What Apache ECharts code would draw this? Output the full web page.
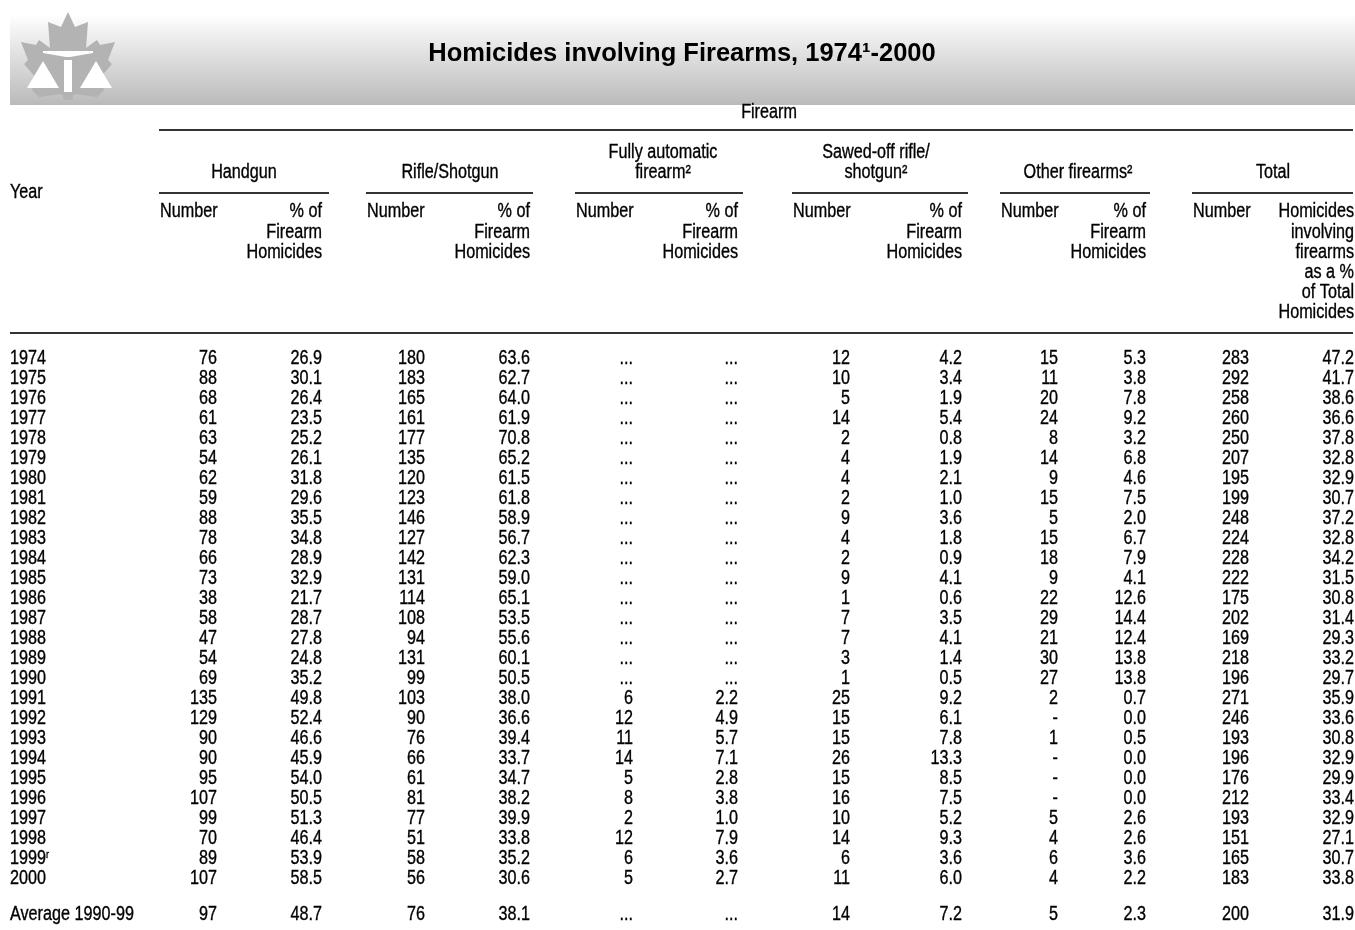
<!DOCTYPE html>
<html>
<head>
<meta charset="utf-8">
<title>Homicides involving Firearms, 1974-2000</title>
<script src="https://cdn.jsdelivr.net/npm/echarts@6/dist/echarts.min.js"></script>
<style>
  html, body { margin: 0; padding: 0; background: #fff; }
  .table { width: 1355px; height: 930px; }
</style>
</head>
<body>
<div class="table"></div>
<script>
// 年份（1999年为修订数据 r）
var years = ['1974', '1975', '1976', '1977', '1978', '1979', '1980', '1981', '1982',
  '1983', '1984', '1985', '1986', '1987', '1988', '1989', '1990', '1991', '1992',
  '1993', '1994', '1995', '1996', '1997', '1998', '1999', '2000'];
var revisedYears = ['1999'];
var averageLabel = 'Average 1990-99';

// 手枪 Handgun
var handgunNum = [76, 88, 68, 61, 63, 54, 62, 59, 88, 78, 66, 73, 38, 58, 47, 54, 69, 135, 129, 90, 90, 95, 107, 99, 70, 89, 107];
var handgunPct = [26.9, 30.1, 26.4, 23.5, 25.2, 26.1, 31.8, 29.6, 35.5, 34.8, 28.9, 32.9, 21.7, 28.7, 27.8, 24.8, 35.2, 49.8, 52.4, 46.6, 45.9, 54.0, 50.5, 51.3, 46.4, 53.9, 58.5];
// Rifle/Shotgun
var rifleNum = [180, 183, 165, 161, 177, 135, 120, 123, 146, 127, 142, 131, 114, 108, 94, 131, 99, 103, 90, 76, 66, 61, 81, 77, 51, 58, 56];
var riflePct = [63.6, 62.7, 64.0, 61.9, 70.8, 65.2, 61.5, 61.8, 58.9, 56.7, 62.3, 59.0, 65.1, 53.5, 55.6, 60.1, 50.5, 38.0, 36.6, 39.4, 33.7, 34.7, 38.2, 39.9, 33.8, 35.2, 30.6];
// Fully automatic firearm（1991年以前没有数据 ...）
var autoNum = [null, null, null, null, null, null, null, null, null, null, null, null, null, null, null, null, null, 6, 12, 11, 14, 5, 8, 2, 12, 6, 5];
var autoPct = [null, null, null, null, null, null, null, null, null, null, null, null, null, null, null, null, null, 2.2, 4.9, 5.7, 7.1, 2.8, 3.8, 1.0, 7.9, 3.6, 2.7];
// Sawed-off rifle/shotgun
var sawedNum = [12, 10, 5, 14, 2, 4, 4, 2, 9, 4, 2, 9, 1, 7, 7, 3, 1, 25, 15, 15, 26, 15, 16, 10, 14, 6, 11];
var sawedPct = [4.2, 3.4, 1.9, 5.4, 0.8, 1.9, 2.1, 1.0, 3.6, 1.8, 0.9, 4.1, 0.6, 3.5, 4.1, 1.4, 0.5, 9.2, 6.1, 7.8, 13.3, 8.5, 7.5, 5.2, 9.3, 3.6, 6.0];
// Other firearms（0 显示为 -）
var otherNum = [15, 11, 20, 24, 8, 14, 9, 15, 5, 15, 18, 9, 22, 29, 21, 30, 27, 2, 0, 1, 0, 0, 0, 5, 4, 6, 4];
var otherPct = [5.3, 3.8, 7.8, 9.2, 3.2, 6.8, 4.6, 7.5, 2.0, 6.7, 7.9, 4.1, 12.6, 14.4, 12.4, 13.8, 13.8, 0.7, 0.0, 0.5, 0.0, 0.0, 0.0, 2.6, 2.6, 3.6, 2.2];
// Total
var totalNum = [283, 292, 258, 260, 250, 207, 195, 199, 248, 224, 228, 222, 175, 202, 169, 218, 196, 271, 246, 193, 196, 176, 212, 193, 151, 165, 183];
var totalPct = [47.2, 41.7, 38.6, 36.6, 37.8, 32.8, 32.9, 30.7, 37.2, 32.8, 34.2, 31.5, 30.8, 31.4, 29.3, 33.2, 29.7, 35.9, 33.6, 30.8, 32.9, 29.9, 33.4, 32.9, 27.1, 30.7, 33.8];
// Average 1990-99 这一行，顺序同上
var averageRow = [97, 48.7, 76, 38.1, null, null, 14, 7.2, 5, 2.3, 200, 31.9];

(function() {
  // 窄体字：用 Liberation Sans 横向压缩
  var FONT = "'Liberation Sans', Arial, sans-serif";
  var SIZE = 19.5;
  var SX = 0.83;

  // 行：年份 + 空行 + 平均值
  var rowKeys = years.concat(['', averageLabel]);
  var avgIndex = rowKeys.length - 1;

  function fmtCount(v) {
    if (v === null) return '...';
    if (v === 0) return '-';
    return String(v);
  }
  function fmtPct(v) {
    return v === null ? '...' : v.toFixed(1);
  }

  // 每一列：数据 + 格式
  var columns = [
    [handgunNum, fmtCount], [handgunPct, fmtPct],
    [rifleNum, fmtCount], [riflePct, fmtPct],
    [autoNum, fmtCount], [autoPct, fmtPct],
    [sawedNum, fmtCount], [sawedPct, fmtPct],
    [otherNum, fmtCount], [otherPct, fmtPct],
    [totalNum, fmtCount], [totalPct, fmtPct]
  ];
  // 每列右对齐的位置（像素）
  var colRight = [217, 322, 425, 530, 633, 738, 850, 962, 1058, 1146, 1249, 1354];

  // 字重稍微加粗一点
  var WEIGHT = { stroke: '#000', lineWidth: 0.35 };

  // 用 custom 系列画文字，位置来自坐标轴
  function textColumn(x, texts, align) {
    var data = texts.map(function(t, i) { return [x, i < texts.length - 1 ? i : avgIndex]; });
    return {
      type: 'custom',
      silent: true,
      data: data,
      encode: { x: 0, y: 1 },
      renderItem: function(params, api) {
        var pt = api.coord([api.value(0), api.value(1)]);
        var dy = api.value(1) === avgIndex ? -4 : 0;
        return {
          type: 'text',
          x: pt[0],
          y: pt[1] + dy,
          scaleX: SX,
          style: {
            text: texts[params.dataIndex],
            fill: '#000',
            stroke: WEIGHT.stroke,
            lineWidth: WEIGHT.lineWidth,
            fontFamily: FONT,
            fontSize: SIZE,
            align: align,
            verticalAlign: 'middle',
            rich: { s: { fontFamily: FONT, fontSize: 11, verticalAlign: 'top', fill: '#000' } }
          }
        };
      }
    };
  }

  var series = [];
  columns.forEach(function(col, c) {
    var texts = col[0].map(col[1]).concat([col[1](averageRow[c])]);
    series.push(textColumn(colRight[c], texts, 'right'));
  });
  // 年份列（左对齐）
  var yearTexts = years.map(function(y) {
    return revisedYears.indexOf(y) >= 0 ? y + '{s|r}' : y;
  }).concat([averageLabel]);
  series.push(textColumn(10, yearTexts, 'left'));

  // 表头
  function txt(text, x, y, align) {
    return {
      type: 'text', x: x, y: y, scaleX: SX, silent: true,
      style: {
        text: text, fill: '#000', stroke: WEIGHT.stroke, lineWidth: WEIGHT.lineWidth,
        fontFamily: FONT, fontSize: SIZE,
        align: align, verticalAlign: 'middle', textAlign: align, textVerticalAlign: 'middle'
      }
    };
  }
  function hline(x1, x2, y) {
    return { type: 'line', silent: true, shape: { x1: x1, y1: y, x2: x2, y2: y }, style: { stroke: '#333', lineWidth: 2 } };
  }

  var head = [];
  // 灰色渐变标题栏
  head.push({
    type: 'rect', silent: true, shape: { x: 10, y: 14, width: 1345, height: 91 },
    style: {
      fill: new echarts.graphic.LinearGradient(0, 0, 0, 1, [
        { offset: 0, color: '#ffffff' },
        { offset: 1, color: '#bababa' }
      ])
    }
  });
  // 枫叶标志
  head.push({
    type: 'polygon', silent: true,
    shape: { points: [[68, 12], [75, 27], [88, 22], [86, 48], [97, 40], [100, 45], [115, 42], [108, 60], [112, 64],
      [100, 78], [104, 90], [97, 97], [74, 94], [72, 100], [64, 100], [62, 94], [39, 97], [32, 90], [36, 78],
      [24, 64], [28, 60], [21, 42], [36, 45], [39, 40], [50, 48], [48, 22], [61, 27]] },
    style: { fill: '#b3b3b3' }
  });
  head.push({ type: 'polygon', silent: true, shape: { points: [[43, 51], [93, 51], [93, 53], [70, 57], [66, 57], [43, 53]] }, style: { fill: '#fff' } });
  head.push({ type: 'rect', silent: true, shape: { x: 64, y: 60, width: 8, height: 32 }, style: { fill: '#fff' } });
  head.push({ type: 'polygon', silent: true, shape: { points: [[43, 61], [27, 88], [59, 88]] }, style: { fill: '#fff' } });
  head.push({ type: 'polygon', silent: true, shape: { points: [[96, 61], [80, 88], [112, 88]] }, style: { fill: '#fff' } });
  // 标题
  head.push({
    type: 'text', x: 682, y: 54, silent: true,
    style: {
      text: 'Homicides involving Firearms, 1974\u00b9-2000', fill: '#000',
      fontFamily: FONT, fontSize: 25.5, fontWeight: 'bold',
      align: 'center', verticalAlign: 'middle', textAlign: 'center', textVerticalAlign: 'middle'
    }
  });

  head.push(txt('Firearm', 769, 113, 'center'));
  head.push(hline(159, 1353, 130));
  head.push(txt('Year', 10, 193, 'left'));

  var groups = [
    [['Handgun'], 244, 159, 329],
    [['Rifle/Shotgun'], 450, 366, 533],
    [['Fully automatic', 'firearm\u00b2'], 663, 575, 743],
    [['Sawed-off rifle/', 'shotgun\u00b2'], 876, 792, 968],
    [['Other firearms\u00b2'], 1078, 1000, 1150],
    [['Total'], 1273, 1192, 1353]
  ];
  groups.forEach(function(g, k) {
    g[0].forEach(function(line, j) {
      head.push(txt(line, g[1], 173 - (g[0].length - 1 - j) * 20, 'center'));
    });
    head.push(hline(g[2], g[3], 193));
    head.push(txt('Number', g[2] + 1, 212, 'left'));
    var pctLines = k < 5 ? ['% of', 'Firearm', 'Homicides']
      : ['Homicides', 'involving', 'firearms', 'as a %', 'of Total', 'Homicides'];
    pctLines.forEach(function(line, j) {
      head.push(txt(line, colRight[k * 2 + 1], 212 + j * 20.2, 'right'));
    });
  });
  head.push(hline(10, 1353, 333));

  // 1. 实例化对象
  var myChart = echarts.init(document.querySelector('.table'));
  // 2. 指定配置项和数据
  var option = {
    animation: false,
    grid: { left: 0, right: 0, top: 349, height: 580 },
    xAxis: { type: 'value', min: 0, max: 1355, show: false },
    yAxis: { type: 'category', data: rowKeys, inverse: true, show: false },
    graphic: { elements: head },
    series: series
  };
  // 3. 配置项和数据给我们的实例化对象
  myChart.setOption(option);
  // 4. 当我们浏览器缩放的时候，图表也等比例缩放
  window.addEventListener('resize', function() {
    myChart.resize();
  });
})();
</script>
</body>
</html>
